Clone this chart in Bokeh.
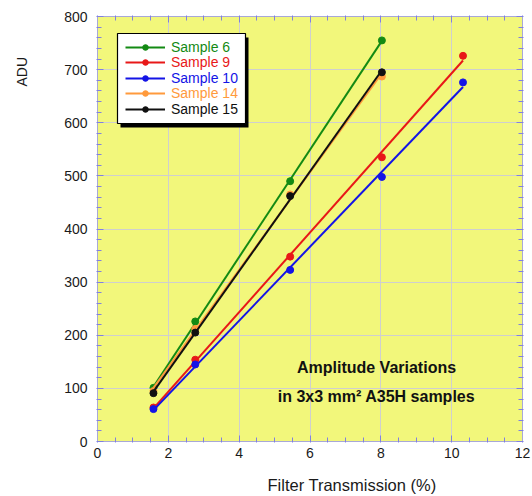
import numpy as np
from bokeh.plotting import figure
from bokeh.models import (Range1d, LinearAxis, SingleIntervalTicker, Legend,
                          LegendItem, Label, BoxAnnotation, ColumnDataSource,
                          Title, CustomJSTickFormatter)
from bokeh.embed import file_html
from bokeh.resources import INLINE

# Filter transmission (%) at which each sample was measured
transmission = [1.58, 2.76, 5.44, 8.03, 10.32]

# Mean amplitude (ADU) per sample
sample_6 = [101, 226, 490, 755]
sample_9 = [64, 154, 348, 535, 726]
sample_10 = [61, 145, 323, 498, 676]
sample_14 = [95, 212, 465, 687]
sample_15 = [91, 205, 462, 695]

sample_names = ["Sample 6", "Sample 9", "Sample 10", "Sample 14", "Sample 15"]
sample_values = [sample_6, sample_9, sample_10, sample_14, sample_15]
sample_colors = ["#138a13", "#e81818", "#1414e6", "#ff9a3c", "#101010"]

x_ticks = [0, 2, 4, 6, 8, 10, 12]
y_ticks = [0, 100, 200, 300, 400, 500, 600, 700, 800]

FONT = "Liberation Sans"
W, H = 532, 496
LEFT, RIGHT, TOP, BOTTOM = 97, 10, 16, 55

p = figure(width=W, height=H, x_range=Range1d(x_ticks[0], x_ticks[-1]),
           y_range=Range1d(y_ticks[0], y_ticks[-1]),
           output_backend="svg", toolbar_location=None,
           min_border_left=LEFT, min_border_right=RIGHT,
           min_border_top=TOP, min_border_bottom=BOTTOM,
           background_fill_color="#f2f77b", border_fill_color="white",
           outline_line_color="#a8a8d8")

frame_w = W - LEFT - RIGHT
frame_h = H - TOP - BOTTOM


def px_x(px):
    """Canvas pixel column -> data x."""
    return x_ticks[0] + (px - LEFT) / frame_w * (x_ticks[-1] - x_ticks[0])


def px_y(py):
    """Canvas pixel row -> data y."""
    return y_ticks[0] + (H - BOTTOM - py) / frame_h * (y_ticks[-1] - y_ticks[0])


x_ticker = SingleIntervalTicker(interval=2, num_minor_ticks=4)
y_ticker = SingleIntervalTicker(interval=100, num_minor_ticks=5)

p.xaxis.ticker = x_ticker
p.yaxis.ticker = y_ticker
p.xgrid.ticker = x_ticker
p.ygrid.ticker = y_ticker
p.grid.grid_line_color = "#cfcfcf"
p.grid.grid_line_width = 1

blank = CustomJSTickFormatter(code="return ''")
p.add_layout(LinearAxis(ticker=x_ticker, formatter=blank,
                        major_label_standoff=0), "above")
p.add_layout(LinearAxis(ticker=y_ticker, formatter=blank,
                        major_label_standoff=0), "right")

for ax in p.axis:
    ax.axis_line_color = "#a8a8d8"
    ax.major_tick_line_color = "#8080e0"
    ax.minor_tick_line_color = "#8080e0"
    ax.major_tick_in = 6
    ax.major_tick_out = 0
    ax.minor_tick_in = 4
    ax.minor_tick_out = 1
    ax.major_label_text_font = FONT
    ax.major_label_text_font_size = "14px"
    ax.major_label_text_color = "#1a1a1a"

p.xaxis[0].major_label_standoff = 14
p.yaxis[0].major_label_standoff = 9

# Axis titles, shifted along and away from their axes
p.add_layout(Title(text="Filter Transmission (%)", align="left", offset=170,
                   vertical_align="top", standoff=0,
                   padding=dict(left=0, right=0, top=15, bottom=0),
                   text_font=FONT, text_font_size="16.5px",
                   text_font_style="normal", text_color="#1a1a1a"), "below")
p.add_layout(Title(text="ADU", align="left", offset=355,
                   vertical_align="bottom", standoff=0,
                   padding=dict(left=0, right=0, top=0, bottom=32),
                   text_font=FONT, text_font_size="14px",
                   text_font_style="normal", text_color="#1a1a1a"), "left")

# Data points and straight-line fits for each sample
legend_parts = []
for name, vals, col in zip(sample_names, sample_values, sample_colors):
    xs = np.array(transmission[:len(vals)], dtype=float)
    ys = np.array(vals, dtype=float)
    slope, icpt = np.polyfit(xs, ys, 1)
    fx = np.array([xs.min(), xs.max()])
    fit_src = ColumnDataSource(dict(x=fx, y=slope * fx + icpt))
    pts_src = ColumnDataSource(dict(x=xs, y=ys))
    ln = p.line("x", "y", source=fit_src, line_color=col, line_width=2)
    dots = p.scatter("x", "y", source=pts_src, size=7, fill_color=col,
                     line_color=col)
    legend_parts.append((name, col, ln, dots))

# Legend box with a drop shadow
p.add_layout(BoxAnnotation(left=px_x(120), right=px_x(248), top=px_y(37),
                           bottom=px_y(127), fill_color="black", fill_alpha=1,
                           line_alpha=0))
p.add_layout(BoxAnnotation(left=px_x(117), right=px_x(245), top=px_y(33),
                           bottom=px_y(123), fill_color="white", fill_alpha=1,
                           line_color="black", line_width=1.2, line_alpha=1))

row0, row_step, row_h = 47.5, 15.5, 14
for i, (name, col, ln, dots) in enumerate(legend_parts):
    center = row0 + i * row_step
    leg = Legend(items=[LegendItem(label=name, renderers=[ln, dots])],
                 location=(125 - LEFT, (H - BOTTOM) - (center + row_h / 2)),
                 margin=0, padding=0, spacing=0,
                 glyph_width=40, glyph_height=row_h, label_height=row_h,
                 label_standoff=6, label_text_font=FONT,
                 label_text_font_size="14px", label_text_color=col,
                 background_fill_alpha=0, border_line_alpha=0)
    p.add_layout(leg)

# Caption inside the plot area
p.add_layout(Label(x=px_x(376), y=px_y(367), text="Amplitude Variations",
                   text_font=FONT, text_font_size="16px", text_font_style="bold",
                   text_color="#111111", text_align="center",
                   text_baseline="middle"))
p.add_layout(Label(x=px_x(376), y=px_y(396), text="in 3x3 mm\u00b2 A35H samples",
                   text_font=FONT, text_font_size="16px", text_font_style="bold",
                   text_color="#111111", text_align="center",
                   text_baseline="middle"))

open("out.html", "w").write(file_html(p, INLINE))
